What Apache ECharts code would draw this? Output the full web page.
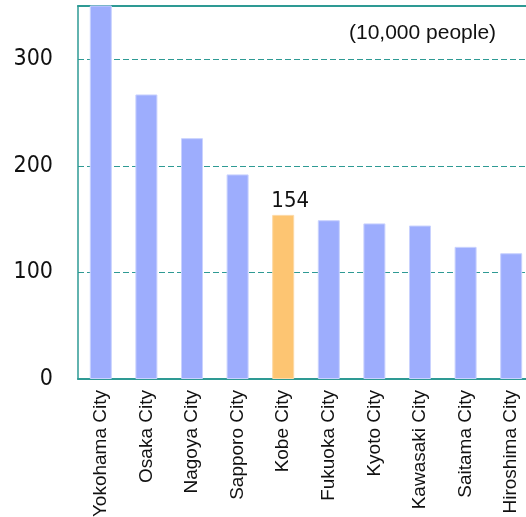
<!DOCTYPE html>
<html>
<head>
<meta charset="utf-8">
<script src="https://cdn.jsdelivr.net/npm/echarts@6/dist/echarts.min.js"></script>
<style>
  html, body { margin: 0; padding: 0; background: #fff; }
  #chart { width: 526px; height: 517px; }
</style>
</head>
<body>
<div id="chart"></div>
<script>
// Population of major cities (unit: 10,000 people)
const cities = ['Yokohama City', 'Osaka City', 'Nagoya City', 'Sapporo City', 'Kobe City',
                'Fukuoka City', 'Kyoto City', 'Kawasaki City', 'Saitama City', 'Hiroshima City'];
const population = [375, 267, 226, 192, 154, 149, 146, 144, 124, 118];
const highlightCity = 'Kobe City';
const unitLabel = '(10,000 people)';

const TEAL = '#2e9a94';
const BLUE = '#9dadfd';
const ORANGE = '#fdc572';
const NUM_FONT = '"DejaVu Sans Condensed", "DejaVu Sans", sans-serif';

const chart = echarts.init(document.getElementById('chart'), null, { renderer: 'canvas' });

const barData = population.map((v, i) => {
  const isHL = cities[i] === highlightCity;
  return {
    value: v,
    itemStyle: isHL ? { color: ORANGE, borderColor: '#fdd9a6', borderWidth: 1 } : { color: BLUE, borderColor: '#c9d2fe', borderWidth: 1 },
    label: isHL ? {
      show: true, position: 'top', distance: 3, offset: [7, 0],
      fontFamily: NUM_FONT, fontSize: 22, color: '#111'
    } : { show: false }
  };
});

chart.setOption({
  animation: false,
  // plot area runs past the right edge of the canvas
  grid: { left: 78, top: 6, width: 456, bottom: 138, containLabel: false, outerBoundsMode: 'none' },
  xAxis: [{
    type: 'category',
    data: cities,
    axisLine: { show: true, lineStyle: { color: TEAL, width: 2 } },
    axisTick: { show: false },
    axisLabel: {
      rotate: 90, margin: 11, interval: 0,
      fontFamily: 'Liberation Sans', fontSize: 19, color: '#111'
    }
  }, {
    type: 'category',
    position: 'top',
    data: cities,
    axisLine: { show: true, lineStyle: { color: TEAL, width: 2 } },
    axisTick: { show: false },
    axisLabel: { show: false }
  }],
  yAxis: {
    type: 'value',
    min: 0, max: 350, interval: 100,
    axisLine: { show: true, lineStyle: { color: TEAL, width: 1.5 } },
    axisTick: { show: false },
    axisLabel: {
      showMaxLabel: false, margin: 25,
      fontFamily: NUM_FONT, fontSize: 23, color: '#111'
    },
    splitLine: { show: true, lineStyle: { color: TEAL, type: [6, 3], width: 1 } }
  },
  graphic: [{
    type: 'text', left: 349, top: 23,
    style: { text: unitLabel, font: '21px "Liberation Sans"', fill: '#111' }
  }],
  series: [{
    type: 'bar',
    data: barData,
    barWidth: 22,
    clip: true
  }]
});
</script>
</body>
</html>
